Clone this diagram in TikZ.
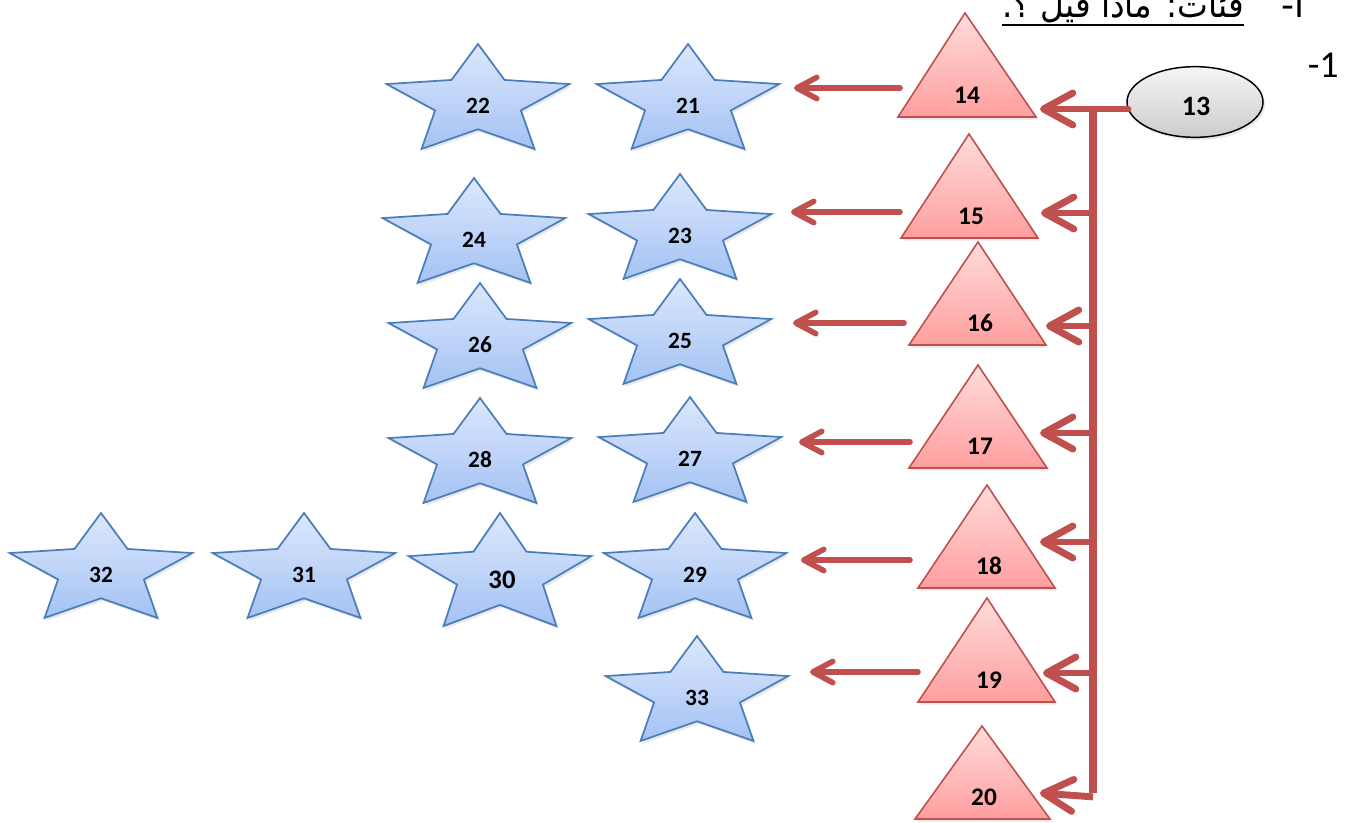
\documentclass[tikz,border=0pt]{standalone}
\usepackage{fontspec}
\setmainfont{Carlito}
\newfontfamily\arabicfont[Script=Arabic]{DejaVu Sans}
\newfontfamily\latinfont{Carlito}
\TeXXeTstate=1
\usetikzlibrary{arrows.meta,shapes.geometric,shadows}
\definecolor{starline}{RGB}{74,126,187}
\definecolor{startop}{RGB}{220,232,252}
\definecolor{starbot}{RGB}{164,194,244}
\definecolor{triline}{RGB}{192,80,77}
\definecolor{tritop}{RGB}{255,220,220}
\definecolor{tribot}{RGB}{255,158,158}
\definecolor{arrowred}{RGB}{192,80,77}
\tikzset{
  starsty/.style={draw=starline, line width=1.3pt, line join=miter, top color=startop, bottom color=starbot,
    drop shadow={shadow xshift=1.5pt, shadow yshift=-2pt, opacity=0.18}},
  tristy/.style={draw=triline, line width=1.2pt, top color=tritop, bottom color=tribot,
    drop shadow={shadow xshift=1.5pt, shadow yshift=-2pt, opacity=0.18}},
  slabel/.style={font=\fontsize{17.5}{17.5}\selectfont\bfseries, inner sep=0pt},
  tlabel/.style={font=\fontsize{19}{19}\selectfont\bfseries, inner sep=0pt},
  smallarrow/.style={draw=arrowred, line width=4.2pt, line cap=round,
    -{Straight Barb[length=15pt, width=16pt, round]}},
  bigarrow/.style={draw=arrowred, line width=5.2pt, line cap=round, line join=round,
    -{Straight Barb[length=22pt, width=24pt, round]}},
}
% #1 y-radius, #2 name, #3 cx, #4 cy, #5 label
\newcommand\bstar[5][43.5pt]{%
  \begin{scope}[shift={(#3,#4)}, x=72pt, y=#1]
    \path[starsty] (90:1) -- (126:.47) -- (162:1) -- (198:.47) -- (234:1) -- (270:.47)
      -- (306:1) -- (342:.47) -- (18:1) -- (54:.47) -- cycle;
  \end{scope}
  \node[slabel] (#2) at (#3,{#4+4}) {#5};
}
% #1 name, #2 apex x, #3 apex y, #4 left x, #5 right x, #6 base y, #7 label
\newcommand\rtri[7]{%
  \path[tristy] (#2,#3) -- (#5,#6) -- (#4,#6) -- cycle;
  \node[tlabel] (#1) at ({#2+2},{#6-22}) {#7};
}
\begin{document}
\begin{tikzpicture}[x=0.75pt, y=-0.75pt]
\useasboundingbox (0,0) rectangle (1345,822);
\fill[white] (0,0) rectangle (1345,822);

% title (cut at top, as in the reference)
\node[anchor=base east, inner sep=0pt, font=\arabicfont\fontsize{27}{27}\selectfont] (title) at (1244,17)
  {\scalebox{0.91}[1]{\beginR فئات: ماذا قيل ؟.\endR}};
\draw[line width=2.2pt] (1002,25) -- (1244,25);
\node[anchor=base east, inner sep=0pt, font=\arabicfont\fontsize{27}{27}\selectfont] (alef) at (1305,17)
  {\beginR أ-\endR};
\node[anchor=base east, inner sep=0pt, font=\latinfont\fontsize{28.5}{28.5}\selectfont] (one) at (1339,77) {-1};

% stars
\bstar{s22}{478}{102}{22}
\bstar{s21}{688}{102}{21}
\bstar{s24}{474}{236}{24}
\bstar{s23}{680}{232}{23}
\bstar{s26}{480}{341}{26}
\bstar{s25}{680}{337}{25}
\bstar{s28}{480}{456}{28}
\bstar{s27}{690}{455}{27}
\bstar[46.9pt]{s30}{500}{575.5}{}
\node[font=\fontsize{20}{20}\selectfont\bfseries, inner sep=0pt] (l30) at (502,580) {30};
\bstar{s29}{695}{571}{29}
\bstar{s31}{304}{571}{31}
\bstar{s32}{101}{571}{32}
\bstar{s33}{697}{694}{33}

% triangles
\rtri{t14}{965}{13}{898}{1036}{117}{14}
\rtri{t15}{969}{134}{901}{1038}{238}{15}
\rtri{t16}{978}{242}{909}{1046}{345}{16}
\rtri{t17}{978}{365}{909}{1047}{468}{17}
\rtri{t18}{987}{485}{918}{1055}{588}{18}
\rtri{t19}{987}{598}{918}{1055}{702}{19}
\rtri{t20}{982}{726}{915}{1050}{819}{20}

% ellipse 13
\node[ellipse, draw=black, line width=1.1pt, top color=white!96!black, bottom color=black!20,
  minimum width=102pt, minimum height=53pt, inner sep=0pt,
  drop shadow={shadow xshift=1.5pt, shadow yshift=-2pt, opacity=0.18}] (n13) at (1195,102) {};
\node[font=\fontsize{21}{21}\selectfont\bfseries, inner sep=0pt] (l13) at (1196,106) {13};

% left arrow end points
\coordinate (a14s) at (900,88);  \coordinate (a14e) at (794,88);
\coordinate (a15s) at (900,212); \coordinate (a15e) at (791,212);
\coordinate (a16s) at (904,323); \coordinate (a16e) at (793,323);
\coordinate (a17s) at (910,442); \coordinate (a17e) at (799,442);
\coordinate (a18s) at (910,560); \coordinate (a18e) at (801,560);
\coordinate (a19s) at (918,672); \coordinate (a19e) at (810,672);
\foreach \i in {14,...,19} {\draw[smallarrow] (a\i s) -- (a\i e);}

% right bracket
\coordinate (e13) at (1128,109);
\coordinate (j) at (1093,109);
\coordinate (r14) at (1040,109);
\coordinate (r15) at (1041,213);
\coordinate (r16) at (1046,326);
\coordinate (r17) at (1040,433);
\coordinate (r18) at (1040,542);
\coordinate (r19) at (1043,673);
\coordinate (r20) at (1040,793);
\draw[draw=arrowred, line width=5.8pt] (j) -- (j |- r20);
\draw[bigarrow] (e13) -- (r14);
\foreach \i in {15,...,19} {\draw[bigarrow] (j |- r\i) -- (r\i);}
\draw[bigarrow, line cap=butt] ([yshift=-2.9pt]j |- r20) -- (r20);
\end{tikzpicture}
\end{document}
